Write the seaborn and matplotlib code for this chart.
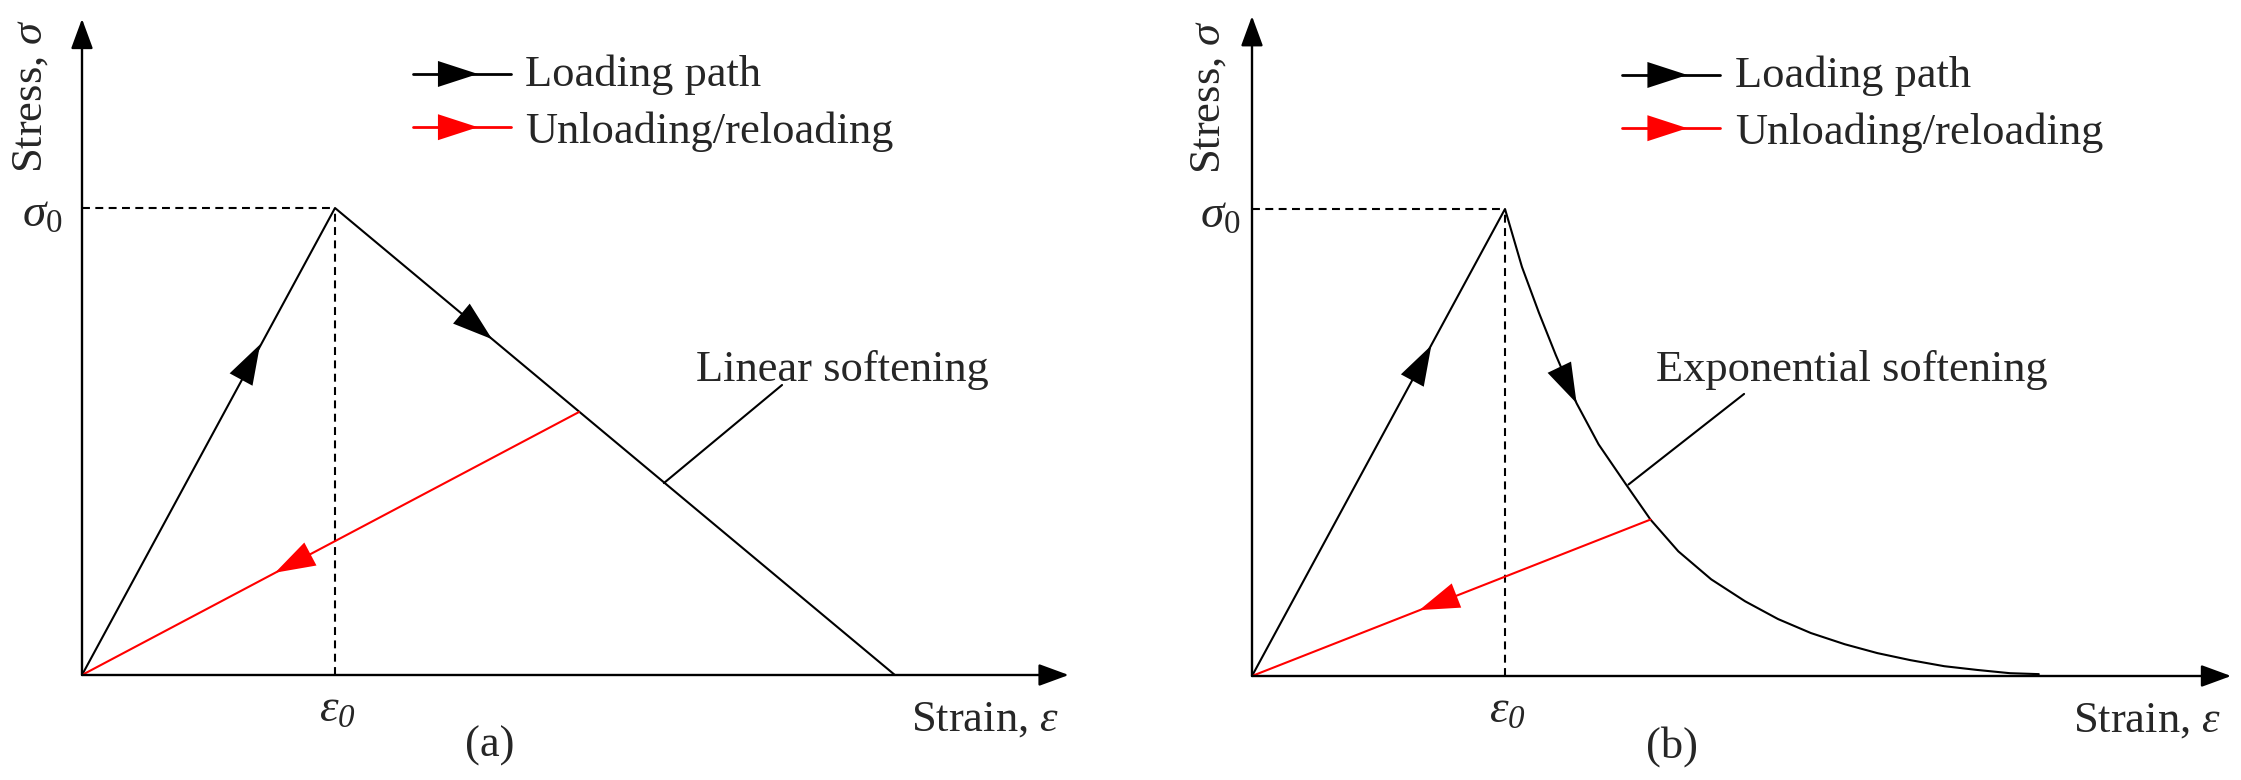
import numpy as np
import pandas as pd
import matplotlib
matplotlib.use("Agg")
import matplotlib.pyplot as plt
from matplotlib.patches import ArrowStyle
import seaborn as sns

# ---------------- data (strain in units of eps0, stress in units of sigma0) -------------
# Panel (a): linear softening
a_load_strain = [0.0, 1.0, 3.213]
a_load_stress = [0.0, 1.0, 0.0]
a_unload_strain = [1.964, 0.0]
a_unload_stress = [0.563, 0.0]

# Panel (b): exponential softening
b_load_strain = [0.0, 1.0, 1.067, 1.134, 1.201, 1.283, 1.370, 1.476, 1.575, 1.685,
                 1.815, 1.949, 2.079, 2.209, 2.343, 2.472, 2.602, 2.736, 2.866, 2.996, 3.110]
b_load_stress = [0.0, 1.0, 0.876, 0.778, 0.687, 0.584, 0.496, 0.412, 0.335, 0.267,
                 0.207, 0.160, 0.122, 0.092, 0.068, 0.049, 0.034, 0.021, 0.013, 0.006, 0.004]
b_unload_strain = [1.575, 0.0]
b_unload_stress = [0.335, 0.0]

legend_labels = ["Loading path", "Unloading/reloading"]
softening_labels = ["Linear softening", "Exponential softening"]
panel_labels = ["(a)", "(b)"]

# ---------------- style ----------------
sns.set_theme(style="white")
plt.rcParams['font.family'] = ['Liberation Serif', 'DejaVu Serif']
plt.rcParams['mathtext.fontset'] = 'custom'
plt.rcParams['mathtext.rm'] = 'Liberation Serif'
plt.rcParams['mathtext.it'] = 'Liberation Serif:italic'
plt.rcParams['mathtext.bf'] = 'Liberation Serif:bold'
plt.rcParams['mathtext.cal'] = 'Liberation Serif:italic'

FS = 32
LW = 1.5
W, H = 2241, 780
EX, SY = 253.0, 467.0
XLIM = (-0.35, 4.0)
YLIM = (-0.25, 1.45)

fig = plt.figure(figsize=(W / 100, H / 100), dpi=100)
fig.patch.set_facecolor('white')


def make_ax(ox, oy):
    left = ox + XLIM[0] * EX
    right = ox + XLIM[1] * EX
    bottom = oy - YLIM[0] * SY
    top = oy - YLIM[1] * SY
    ax = fig.add_axes([left / W, 1 - bottom / H, (right - left) / W, (bottom - top) / H])
    ax.set_xlim(XLIM)
    ax.set_ylim(YLIM)
    ax.axis('off')
    return ax


def head(ax, tip, direction, color, L=40.0, hw=13.0):
    """Filled triangular arrowhead whose tip is at `tip` (data), pointing along `direction`."""
    trans = ax.transData
    tip_px = trans.transform(tip)
    d = np.array([direction[0] * EX, direction[1] * SY], float)
    d /= np.linalg.norm(d)
    n = np.array([-d[1], d[0]])
    base = tip_px - d * L
    pts = np.array([tip_px, base + n * hw, base - n * hw])
    dp = trans.inverted().transform(pts)
    ax.fill(dp[:, 0], dp[:, 1], color=color, lw=0, zorder=5)


def axis_arrow(ax, xy, xytext):
    ax.annotate('', xy=xy, xytext=xytext,
                arrowprops=dict(arrowstyle=ArrowStyle('-|>', head_length=18.5, head_width=6.8),
                                mutation_scale=1, color='black', lw=1.7, shrinkA=0, shrinkB=0))


def draw_panel(ax, load_x, load_y, un_x, un_y, arrows, leader, soft_label, soft_pos,
               leg_x, xtip, ytip, stress_x, sig_x, label_x, panel_label):
    axis_arrow(ax, (xtip, 0), (0, 0))
    axis_arrow(ax, (0, ytip), (0, 0))
    ax.plot([0, 1], [1, 1], color='black', lw=LW, ls=(0, (3.8, 2.6)))
    ax.plot([1, 1], [0, 1], color='black', lw=LW, ls=(0, (3.8, 2.6)))
    df_load = pd.DataFrame({'strain': load_x, 'stress': load_y})
    df_un = pd.DataFrame({'strain': un_x, 'stress': un_y})
    sns.lineplot(data=df_load, x='strain', y='stress', sort=False, estimator=None,
                 color='black', lw=LW, ax=ax)
    sns.lineplot(data=df_un, x='strain', y='stress', sort=False, estimator=None,
                 color='red', lw=LW, ax=ax)
    ax.set_xlim(XLIM)
    ax.set_ylim(YLIM)
    ax.axis('off')
    for tip, d, c in arrows:
        head(ax, tip, d, c)
    ax.plot([leader[0][0], leader[1][0]], [leader[0][1], leader[1][1]], color='black', lw=LW)
    ax.text(soft_pos[0], soft_pos[1], soft_label, fontsize=FS, ha='left', va='baseline')
    x0, x1, xt = leg_x
    for yl, yb, c, lab in [(1.287, 1.261, 'black', legend_labels[0]),
                           (1.173, 1.139, 'red', legend_labels[1])]:
        ax.plot([x0, x1], [yl, yl], color=c, lw=2.0)
        head(ax, (x0 + 0.257, yl), (1, 0), c)
        ax.text(xt, yb, lab, fontsize=FS, ha='left', va='baseline')
    ax.text(sig_x, 0.985, r'$\sigma_0$', fontsize=FS + 2, ha='right', va='center')
    ax.text(1.01, -0.03, r'$\varepsilon_{\mathcal{0}}$', fontsize=FS + 2, ha='center', va='top')
    ax.text(stress_x, 1.24, r'Stress, $\sigma$', fontsize=FS, rotation=90, ha='center', va='center')
    ax.text(xtip - 0.04, -0.118, r'Strain, $\varepsilon$', fontsize=FS, ha='right', va='baseline')
    ax.text(label_x, -0.152, panel_label, fontsize=FS, ha='center', va='center')


ax_a = make_ax(82, 675)
draw_panel(ax_a, a_load_strain, a_load_stress, a_unload_strain, a_unload_stress,
           arrows=[((0.704, 0.708), (1, 1), 'black'),
                   ((1.621, 0.719), (2.213, -1), 'black'),
                   ((0.763, 0.219), (-1.964, -0.563), 'red')],
           leader=((2.30, 0.411), (2.767, 0.621)),
           soft_label=softening_labels[0], soft_pos=(2.427, 0.630),
           leg_x=(1.308, 1.696, 1.751), xtip=3.90, ytip=1.405, stress_x=-0.205,
           sig_x=-0.075, label_x=1.61, panel_label=panel_labels[0])

ax_b = make_ax(1252, 676)
draw_panel(ax_b, b_load_strain, b_load_stress, b_unload_strain, b_unload_stress,
           arrows=[((0.709, 0.708), (1, 1), 'black'),
                   ((1.283, 0.584), (1.370 - 1.201, 0.496 - 0.687), 'black'),
                   ((0.661, 0.141), (-1.575, -0.335), 'red')],
           leader=((1.488, 0.410), (1.945, 0.604)),
           soft_label=softening_labels[1], soft_pos=(1.598, 0.631),
           leg_x=(1.464, 1.850, 1.909), xtip=3.87, ytip=1.413, stress_x=-0.17,
           sig_x=-0.045, label_x=1.66, panel_label=panel_labels[1])

fig.savefig('out.png', dpi=100, facecolor='white')
